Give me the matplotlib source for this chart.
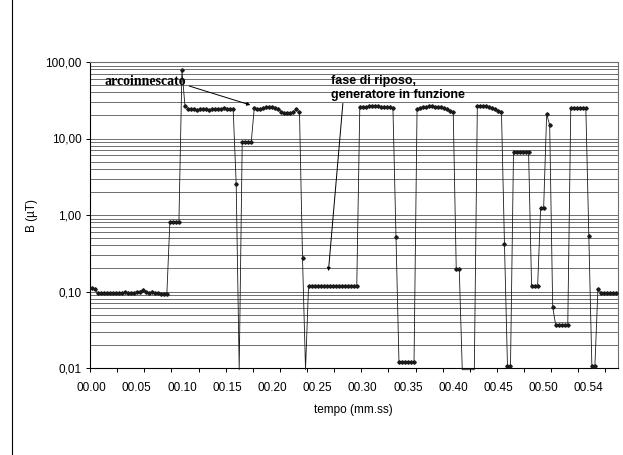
import numpy as np
import matplotlib.pyplot as plt
from matplotlib.ticker import FixedLocator, FixedFormatter, LogLocator, NullFormatter

plt.rcParams['font.family'] = ['Liberation Sans', 'DejaVu Sans']

# campioni di B (uT), uno per categoria dell'asse dei tempi
b_ut = [
    0.11, 0.108, 0.096, 0.095, 0.096, 0.096, 0.096, 0.096, 0.097, 0.096,
    0.096, 0.098, 0.097, 0.096, 0.097, 0.098, 0.1, 0.105, 0.1, 0.096,
    0.098, 0.096, 0.095, 0.094, 0.094, 0.093,
    0.82, 0.82, 0.82, 0.82, 78.0, 26.8,
    24.5, 24.0, 24.0, 23.5, 24.0, 24.0, 24.0, 23.5, 24.0, 24.0,
    24.5, 24.5, 25.0, 24.5, 24.0, 24.0,
    2.54, 0.0095, 9.1, 9.1, 9.1, 9.1,
    25.0, 24.0, 24.5, 25.0, 25.5, 25.5, 25.5, 25.0, 24.0, 22.5,
    21.5, 21.5, 21.5, 22.0, 24.0, 22.0,
    0.277, 0.0095,
    0.118, 0.118, 0.118, 0.118, 0.118, 0.118, 0.118, 0.118, 0.118,
    0.118, 0.118, 0.118, 0.118, 0.118, 0.118, 0.118, 0.118,
    25.5, 26.0, 26.0, 26.5, 27.0, 26.5, 26.5, 26.0, 26.0, 25.5, 25.5, 25.0,
    0.51, 0.012, 0.012, 0.012, 0.012, 0.012, 0.012,
    24.5, 25.0, 25.5, 26.0, 26.5, 26.5, 26.0, 26.0, 25.5, 25.0, 24.0, 23.0, 22.0,
    0.195, 0.195, 0.0095, 0.0095, 0.0095, 0.0095, 0.0095,
    27.0, 27.0, 27.0, 26.5, 26.0, 25.0, 24.0, 23.0, 22.5,
    0.42, 0.0105, 0.0105,
    6.7, 6.7, 6.7, 6.7, 6.7, 6.7,
    0.117, 0.117, 0.117, 1.24, 1.24, 20.9, 15.0, 0.063,
    0.036, 0.036, 0.036, 0.036, 0.036,
    24.7, 24.7, 24.7, 24.7, 24.7, 24.7,
    0.537, 0.0105, 0.0105, 0.107,
    0.097, 0.095, 0.096, 0.097, 0.097, 0.095,
]

x_labels = ["00.00", "00.05", "00.10", "00.15", "00.20", "00.25",
            "00.30", "00.35", "00.40", "00.45", "00.50", "00.54"]
label_step = 15
tick_step = 9

y_ticks = [0.01, 0.1, 1, 10, 100]
y_labels = ["0,01", "0,10", "1,00", "10,00", "100,00"]
y_min, y_max = 0.01, 100

vals = np.array(b_ut)
idx = np.arange(len(vals))
visible = list(np.where(vals >= y_min)[0])

fig = plt.figure(figsize=(6.23, 4.55), dpi=100)
ax = fig.add_axes([90 / 623, 87 / 455, 527.5 / 623, 306 / 455])

ax.plot(idx, vals, color='#1a1a1a', lw=0.6, marker='D', ms=1.8,
        markevery=visible, clip_on=False, zorder=3)

ax.set_yscale('log')
ax.set_ylim(y_min, y_max)
ax.set_xlim(-0.5, len(vals) - 0.5)

ax.yaxis.set_major_locator(FixedLocator(y_ticks))
ax.yaxis.set_major_formatter(FixedFormatter(y_labels))
ax.yaxis.set_minor_locator(LogLocator(base=10, subs=np.arange(2, 10)))
ax.yaxis.set_minor_formatter(NullFormatter())
ax.grid(which='both', axis='y', color='#6e6e6e', lw=0.7)
ax.tick_params(axis='y', which='major', length=3, width=0.7, pad=3, labelsize=8.5)
ax.tick_params(axis='y', which='minor', length=0)

ax.xaxis.set_major_locator(FixedLocator(np.arange(0, len(vals), label_step)))
ax.xaxis.set_major_formatter(FixedFormatter(x_labels))
ax.xaxis.set_minor_locator(FixedLocator(np.arange(-0.5, len(vals), tick_step)))
ax.tick_params(axis='x', which='major', length=0, pad=10, labelsize=8.5)
ax.tick_params(axis='x', which='minor', length=3, width=0.7)

for s in ['left', 'bottom']:
    ax.spines[s].set_color('black')
    ax.spines[s].set_linewidth(0.8)
for s in ['top', 'right']:
    ax.spines[s].set_color('#6e6e6e')
    ax.spines[s].set_linewidth(0.8)

ax.set_xlabel('tempo (mm.ss)', fontsize=8.5, labelpad=7)
ax.set_ylabel('B (\u00b5T)', fontsize=8.5, labelpad=5)

arrow = dict(arrowstyle='-|>', mutation_scale=5, lw=0.7, color='black',
             shrinkA=0, shrinkB=0)
ax.annotate('arcoinnescato', xy=(52.7, 27.4), xycoords='data',
            xytext=(0.028, 0.935), textcoords='axes fraction',
            ha='left', va='center', fontsize=10, fontweight='bold',
            family=['Liberation Serif', 'DejaVu Serif'],
            arrowprops=dict(arrow, relpos=(1.0, 0.25)))
ax.annotate('fase di riposo,\ngeneratore in funzione', xy=(78.6, 0.185),
            xycoords='data', xytext=(0.457, 0.958), textcoords='axes fraction',
            ha='left', va='top', fontsize=9, fontweight='bold', linespacing=1.2,
            arrowprops=dict(arrow, relpos=(0.09, 0.0)))

fig.add_artist(plt.Line2D([12 / 623, 12 / 623], [0, 1], color='black', lw=0.8))

fig.savefig('out.png', dpi=100)
